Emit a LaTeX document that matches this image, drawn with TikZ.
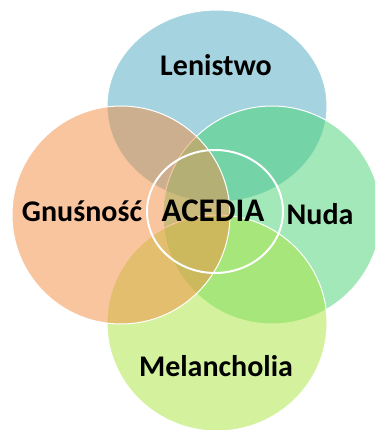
\documentclass[tikz,border=0pt]{standalone}
\usepackage{fontspec}
\setmainfont{Carlito}
\definecolor{lenblue}{RGB}{77,169,193}
\definecolor{gnuorange}{RGB}{243,141,65}
\definecolor{nudagreen}{RGB}{71,211,115}
\definecolor{melgreen}{RGB}{171,229,61}
\tikzset{
  venn/.style={draw=white, line width=1pt, fill opacity=0.5},
  vennlabel/.style={anchor=base, text=black, font=\bfseries\fontsize{30}{36}\selectfont}
}
\begin{document}
\begin{tikzpicture}[x=1pt,y=1pt]

	\useasboundingbox (0,0) rectangle (375,430);
	\clip (0,0) rectangle (375,430);

	\coordinate (len) at (217,324);
	\coordinate (gnu) at (121,215);
	\coordinate (nud) at (272,215);
	\coordinate (mel) at (217,107);
	\coordinate (ace) at (215,218.5);

	\fill[white] (0,0) rectangle (375,430);
	\draw[venn, fill=lenblue] (len) ellipse [x radius=110, y radius=96];
	\draw[venn, fill=nudagreen] (nud) circle [radius=109];
	\draw[venn, fill=melgreen] (mel) ellipse [x radius=110, y radius=108];
	\draw[venn, fill=gnuorange] (gnu) circle [radius=109];
	\draw[white, line width=2pt] (ace) ellipse [x radius=68, y radius=61.5];

	\node[vennlabel] (lenistwo) at (216,354) {Lenistwo};
	\node[vennlabel] (gnusnosc) at (82,208) {Gnuśność};
	\node[vennlabel, font=\bfseries\fontsize{33}{40}\selectfont] (acedia) at (213,208) {ACEDIA};
	\node[vennlabel] (nuda) at (320,205) {Nuda};
	\node[vennlabel] (melancholia) at (216,53) {Melancholia};

\end{tikzpicture}
\end{document}
